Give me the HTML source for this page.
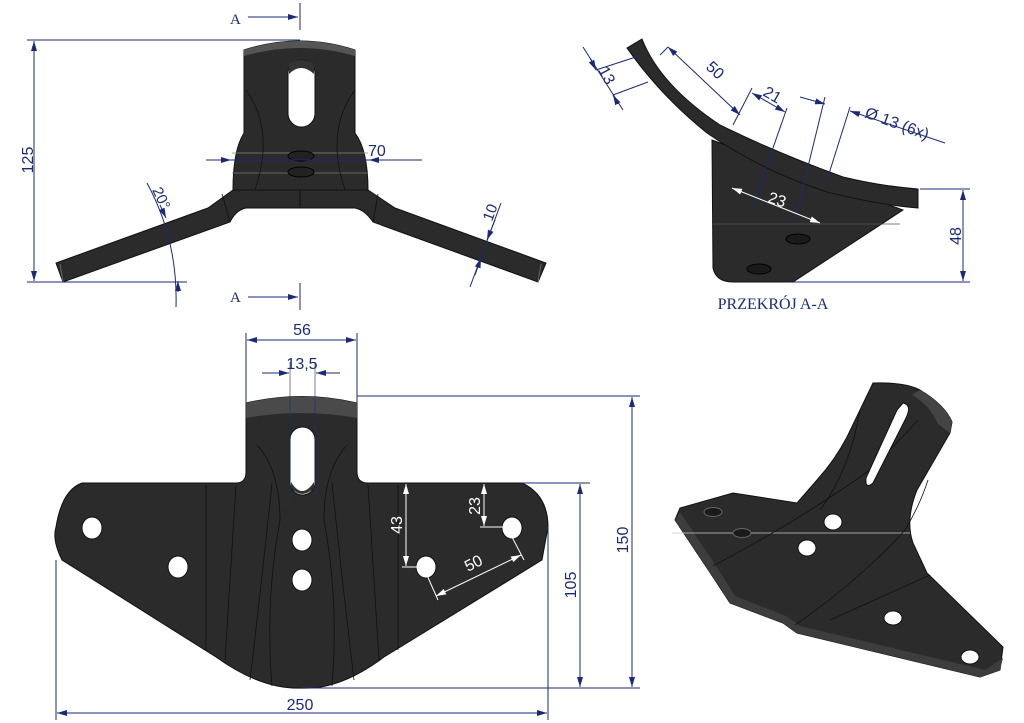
<!DOCTYPE html>
<html><head><meta charset="utf-8"><style>
html,body{margin:0;padding:0;background:#fff}
svg{display:block}
text{font-family:"Liberation Sans",Arial,sans-serif;font-size:16px;fill:#1b2a78}
.w{fill:#fff}
.d{stroke:#1b2a78;stroke-width:1;fill:none}
.dw{stroke:#fff;stroke-width:1;fill:none}
.p{fill:#2b2b2b;stroke:#111;stroke-width:1}
.e{stroke:#111;stroke-width:0.8;fill:none}
.h{fill:#fff;stroke:#111;stroke-width:1}
</style></head><body>
<svg width="1024" height="723" viewBox="0 0 1024 723">
<defs>
<marker id="a" viewBox="0 0 10 6" refX="10" refY="3" markerWidth="10" markerHeight="6" orient="auto-start-reverse" markerUnits="userSpaceOnUse"><path d="M0,0L10,3L0,6z" fill="#1b2a78"/></marker>
<marker id="aw" viewBox="0 0 10 6" refX="10" refY="3" markerWidth="10" markerHeight="6" orient="auto-start-reverse" markerUnits="userSpaceOnUse"><path d="M0,0L10,3L0,6z" fill="#fff"/></marker>
</defs>

<!-- TOP LEFT VIEW -->
<path class="p" d="M244,50 Q300,32 355,50 L355,133 Q368,150 368,190 L395,208 L546,263 L538,282 L373,222 Q365,210 355,208 L246,208 Q236,210 230,222 L63,282 L56,263 L208,208 L233,190 Q233,150 244,133 Z"/>
<path d="M244,50 Q300,32 355,50 L355,56 Q300,40 244,56Z" fill="#555"/>
<rect x="288" y="60" width="27" height="67" rx="13.5" fill="#fff" stroke="#111"/>
<path d="M289,74 Q301,62 314,74 L314,64 Q301,56 289,64Z" fill="#333"/>
<line x1="232" y1="153" x2="368" y2="153" stroke="#888" stroke-width="0.7"/>
<line x1="232" y1="173" x2="368" y2="173" stroke="#777" stroke-width="0.7"/>
<ellipse cx="301" cy="156" rx="13" ry="5" fill="#222" stroke="#000"/>
<ellipse cx="301" cy="172" rx="13" ry="5" fill="#222" stroke="#000"/>
<line x1="233" y1="190" x2="368" y2="190" stroke="#111"/>
<line x1="300" y1="190" x2="300" y2="208" stroke="#111"/>
<path class="e" d="M246,90 Q275,130 255,190 M355,90 Q325,130 345,190"/>
<path class="e" d="M222,194 L230,222 M378,194 L373,222"/>
<line x1="60" y1="264" x2="63" y2="282" stroke="#666"/>
<line x1="541" y1="264" x2="538" y2="282" stroke="#666"/>
<!-- dims -->
<line class="d" x1="27" y1="40" x2="300" y2="40"/>
<line class="d" x1="27" y1="282" x2="187" y2="282"/>
<line class="d" x1="34" y1="41" x2="34" y2="281" marker-start="url(#a)" marker-end="url(#a)"/>
<text transform="translate(33,160) rotate(-90)" text-anchor="middle">125</text>
<line class="d" x1="206" y1="160" x2="231" y2="160" marker-end="url(#a)"/>
<line class="d" x1="422" y1="160" x2="369" y2="160" marker-end="url(#a)"/>
<line class="d" x1="231" y1="160" x2="369" y2="160"/>
<text x="368" y="156">70</text>
<text x="230" y="24" style="font-family:'Liberation Serif',serif;font-size:15px">A</text>
<line class="d" x1="248" y1="17" x2="298" y2="17" marker-end="url(#a)"/>
<line class="d" x1="300" y1="3" x2="300" y2="30"/>
<text x="230" y="302" style="font-family:'Liberation Serif',serif;font-size:15px">A</text>
<line class="d" x1="248" y1="297" x2="298" y2="297" marker-end="url(#a)"/>
<line class="d" x1="300" y1="283" x2="300" y2="310"/>
<path class="d" d="M147,183 Q178,240 176,307"/>
<line class="d" x1="160" y1="205" x2="166" y2="218" marker-end="url(#a)"/>
<line class="d" x1="178" y1="292" x2="178" y2="281" marker-end="url(#a)"/>
<text transform="translate(152,190) rotate(65)" style="font-size:15px">20°</text>
<line class="d" x1="501" y1="203" x2="470" y2="287"/>
<line class="d" x1="495" y1="220" x2="487" y2="240" marker-end="url(#a)"/>
<line class="d" x1="475" y1="275" x2="481" y2="258" marker-end="url(#a)"/>
<text transform="translate(492,222) rotate(-70)" style="font-size:15px">10</text>

<!-- SECTION A-A -->
<path class="p" d="M712,140 L713,268 Q716,282 733,282 L793,282 L903,210 L712,140Z"/>
<path class="p" d="M642,39 Q660,85 720,125 Q777,153 843,177 Q880,186 918,189 L918,208 Q880,205 827,192 Q760,170 707,133 Q660,95 627,48 Z" fill="#333"/>
<line x1="713" y1="224" x2="900" y2="224" stroke="#555" stroke-width="0.7"/>
<ellipse cx="798" cy="239" rx="12" ry="5" fill="#1a1a1a" stroke="#000"/>
<ellipse cx="759" cy="269" rx="12" ry="5" fill="#1a1a1a" stroke="#000"/>
<line class="d" x1="920" y1="189" x2="970" y2="189"/>
<line class="d" x1="793" y1="282" x2="970" y2="282"/>
<line class="d" x1="963" y1="190" x2="963" y2="281" marker-start="url(#a)" marker-end="url(#a)"/>
<text transform="translate(961,236) rotate(-90)" text-anchor="middle">48</text>
<line class="d" x1="583" y1="47" x2="623" y2="110"/>
<line class="d" x1="590" y1="58" x2="596" y2="70" marker-end="url(#a)"/>
<line class="d" x1="618" y1="104" x2="613" y2="95" marker-end="url(#a)"/>
<line class="d" x1="596" y1="70" x2="642" y2="55"/>
<line class="d" x1="613" y1="95" x2="648" y2="82"/>
<text transform="translate(598,70) rotate(62)">13</text>
<line class="d" x1="668" y1="47" x2="740" y2="115" marker-start="url(#a)" marker-end="url(#a)"/>
<line class="d" x1="668" y1="47" x2="660" y2="55"/>
<text transform="translate(705,68) rotate(43)">50</text>
<line class="d" x1="752" y1="88" x2="733" y2="125"/>
<line class="d" x1="787" y1="108" x2="753" y2="205"/>
<line class="d" x1="752" y1="93" x2="785" y2="112" marker-start="url(#a)" marker-end="url(#a)"/>
<text transform="translate(762,95) rotate(30)">21</text>
<line class="d" x1="825" y1="97" x2="795" y2="220"/>
<line class="d" x1="850" y1="107" x2="827" y2="180"/>
<line class="d" x1="800" y1="97" x2="825" y2="104" marker-end="url(#a)"/>
<line class="d" x1="945" y1="143" x2="850" y2="111" marker-end="url(#a)"/>
<text transform="translate(864,117) rotate(20)">Ø  13  (6x)</text>
<line class="dw" x1="732" y1="188" x2="820" y2="223" marker-start="url(#aw)" marker-end="url(#aw)"/>
<text class="w" transform="translate(767,202) rotate(18)">23</text>
<text x="773" y="309" text-anchor="middle" style="font-family:'Liberation Serif',serif;font-size:16px">PRZEKRÓJ A-A</text>

<!-- BOTTOM VIEW -->
<path class="p" d="M246,403 Q302,390 357,403 L357,472 Q357,483 368,483 L522,483 Q548,495 548,527 L542,560 L384,657 Q340,690 302,688 Q262,690 216,657 L62,560 Q52,540 56,527 Q62,490 82,483 L236,483 Q246,483 246,472 Z"/>
<path d="M246,403 Q302,390 357,403 L357,418 Q302,408 246,418Z" fill="#4a4a4a"/>
<path class="e" d="M272,483 Q262,580 250,680 M332,483 Q342,580 354,680 M206,485 L206,650 M398,485 L398,650 M236,485 L225,660 M368,485 L379,660"/>
<path class="e" d="M257,445 Q280,470 280,520 Q265,600 272,686 M347,445 Q324,470 324,520 Q339,600 332,686"/>
<rect x="290" y="427" width="25" height="68" rx="12.5" fill="#fff" stroke="#111"/>
<path d="M291,482 Q302,500 314,482 L314,488 Q302,500 291,488Z" fill="#333"/>
<ellipse cx="92" cy="528" rx="10" ry="11" class="h"/>
<ellipse cx="178" cy="567" rx="10" ry="11" class="h"/>
<ellipse cx="302" cy="540" rx="10" ry="11" class="h"/>
<ellipse cx="302" cy="580" rx="10" ry="11" class="h"/>
<ellipse cx="426" cy="567" rx="10" ry="11" class="h"/>
<ellipse cx="512" cy="528" rx="10" ry="11" class="h"/>
<line class="d" x1="246" y1="333" x2="246" y2="403"/>
<line class="d" x1="357" y1="333" x2="357" y2="403"/>
<line class="d" x1="247" y1="340" x2="356" y2="340" marker-start="url(#a)" marker-end="url(#a)"/>
<text x="302" y="335" text-anchor="middle">56</text>
<line class="d" x1="262" y1="373" x2="289" y2="373" marker-end="url(#a)"/>
<line class="d" x1="340" y1="373" x2="316" y2="373" marker-end="url(#a)"/>
<line class="d" x1="290" y1="362" x2="290" y2="500" stroke-opacity="0.6"/>
<line class="d" x1="315" y1="362" x2="315" y2="500" stroke-opacity="0.6"/>
<text x="302" y="369" text-anchor="middle">13,5</text>
<line class="d" x1="357" y1="396" x2="640" y2="396"/>
<line class="d" x1="302" y1="688" x2="640" y2="688"/>
<line class="d" x1="632" y1="397" x2="632" y2="687" marker-start="url(#a)" marker-end="url(#a)"/>
<text transform="translate(628,540) rotate(-90)" text-anchor="middle">150</text>
<line class="d" x1="522" y1="483" x2="590" y2="483"/>
<line class="d" x1="580" y1="484" x2="580" y2="687" marker-start="url(#a)" marker-end="url(#a)"/>
<text transform="translate(576,585) rotate(-90)" text-anchor="middle">105</text>
<line class="dw" x1="406" y1="484" x2="406" y2="566" marker-start="url(#aw)" marker-end="url(#aw)"/>
<line class="dw" x1="402" y1="567" x2="420" y2="567"/>
<text class="w" transform="translate(402,525) rotate(-90)" text-anchor="middle">43</text>
<line class="dw" x1="484" y1="484" x2="484" y2="526" marker-start="url(#aw)" marker-end="url(#aw)"/>
<line class="dw" x1="480" y1="527" x2="505" y2="527"/>
<text class="w" transform="translate(480,506) rotate(-90)" text-anchor="middle">23</text>
<line class="dw" x1="426" y1="573" x2="438" y2="600"/>
<line class="dw" x1="512" y1="537" x2="524" y2="560"/>
<line class="dw" x1="436" y1="596" x2="521" y2="555" marker-start="url(#aw)" marker-end="url(#aw)"/>
<text class="w" transform="translate(468,572) rotate(-27)">50</text>
<line class="d" x1="56" y1="560" x2="56" y2="720"/>
<line class="d" x1="548" y1="527" x2="548" y2="720"/>
<line class="d" x1="57" y1="713" x2="547" y2="713" marker-start="url(#a)" marker-end="url(#a)"/>
<text x="300" y="710" text-anchor="middle">250</text>

<!-- ISO VIEW -->
<path class="p" d="M675,520 L680,508 L733,493 L797,503 L817,480 Q835,460 847,437 L873,383 Q905,382 920,390 Q945,405 952,422 L950,433 L917,490 Q905,520 913,543 L927,573 L1003,647 L1000,670 L980,677 L797,633 L783,623 L730,603 L713,577 Z"/>
<path d="M675,520 L713,577 L730,603 L783,623 L797,633 L980,677 L1000,670 L1003,658 L985,670 L800,626 L786,616 L735,596 L720,572 L680,512Z" fill="#3d3d3d"/>
<path d="M920,390 Q945,405 952,422 L950,433 L938,424 Q930,405 912,395Z" fill="#444"/>
<line x1="672" y1="533" x2="910" y2="533" stroke="#ccc" stroke-width="0.8"/>
<path class="e" d="M713,566 Q800,520 870,470 Q900,440 918,420 M795,625 Q860,580 905,530 Q920,505 928,480 M830,620 L930,575 M860,410 Q850,470 820,510"/>
<path d="M903,403 Q913,405 905,420 L873,483 Q865,490 866,478 L897,410Z" fill="#fff" stroke="#111"/>
<ellipse cx="713" cy="512" rx="9" ry="4.5" fill="#1a1a1a" stroke="#666"/>
<ellipse cx="742" cy="533" rx="9" ry="4.5" fill="#1a1a1a" stroke="#666"/>
<ellipse cx="833" cy="522" rx="9" ry="8" class="h"/>
<ellipse cx="807" cy="548" rx="9" ry="8" class="h"/>
<ellipse cx="893" cy="618" rx="9" ry="7" class="h"/>
<ellipse cx="970" cy="657" rx="9" ry="7" class="h"/>
</svg>
</body></html>
